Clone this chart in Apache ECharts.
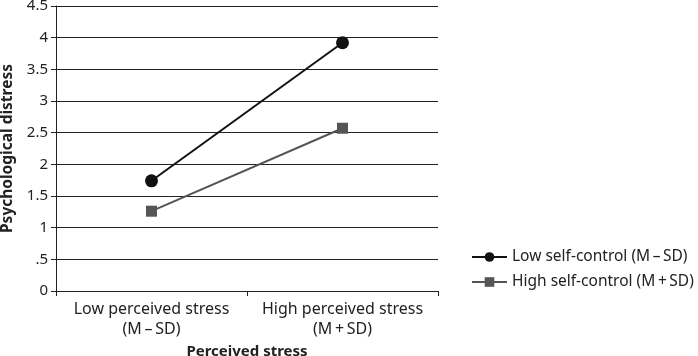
<!DOCTYPE html>
<html>
<head>
<meta charset="utf-8">
<script src="https://cdn.jsdelivr.net/npm/echarts@6/dist/echarts.min.js"></script>
<style>
  html, body { margin: 0; padding: 0; background: #fff; }
  #chart { width: 698px; height: 356px; }
</style>
</head>
<body>
<div id="chart"></div>
<script>
const categories = ['Low perceived stress\n(M\u2009\u2013\u2009SD)', 'High perceived stress\n(M\u2009+\u2009SD)']
const lowSelfControl = [1.74, 3.92]
const highSelfControl = [1.26, 2.57]
const seriesNames = ['Low self-control (M\u2009\u2013\u2009SD)', 'High self-control (M\u2009+\u2009SD)']

const font = 'Noto Sans'

const chart = echarts.init(document.getElementById('chart'))
chart.setOption({
  animation: false,
  textStyle: { fontFamily: font },
  grid: {
    left: 56,
    right: 260,
    top: 6,
    bottom: 65,
    containLabel: false,
    outerBoundsMode: 'none'
  },
  legend: {
    orient: 'vertical',
    left: 466,
    top: 244,
    itemWidth: 35,
    itemHeight: 12,
    itemGap: 9,
    textStyle: { fontFamily: font, fontSize: 15.5, color: '#222' },
    data: seriesNames
  },
  xAxis: {
    type: 'category',
    data: categories,
    name: 'Perceived stress',
    nameLocation: 'middle',
    nameGap: 48,
    nameTextStyle: { fontFamily: font, fontSize: 15, fontWeight: 'bold', color: '#222' },
    axisLine: { lineStyle: { color: '#222', width: 1 } },
    axisTick: { show: true, length: 5, lineStyle: { color: '#222' } },
    axisLabel: { interval: 0, fontFamily: font, fontSize: 16, color: '#222', margin: 8, lineHeight: 20 }
  },
  yAxis: {
    type: 'value',
    min: 0,
    max: 4.5,
    interval: 0.5,
    name: 'Psychological distress',
    nameLocation: 'middle',
    nameGap: 36,
    nameTextStyle: { fontFamily: font, fontSize: 15.5, fontWeight: 'bold', color: '#222' },
    axisLine: { show: true, lineStyle: { color: '#222', width: 1 } },
    axisTick: { show: true, length: 5, lineStyle: { color: '#222' } },
    axisLabel: {
      fontFamily: font, fontSize: 15, color: '#222', margin: 8,
      formatter: v => v === 0.5 ? '.5' : String(v)
    },
    splitLine: { lineStyle: { color: '#222', width: 1 } }
  },
  series: [{
    name: seriesNames[0],
    type: 'line',
    data: lowSelfControl,
    symbol: 'circle',
    symbolSize: 13,
    itemStyle: { color: '#111' },
    lineStyle: { color: '#111', width: 2 }
  }, {
    name: seriesNames[1],
    type: 'line',
    data: highSelfControl,
    symbol: 'rect',
    symbolSize: 11,
    itemStyle: { color: '#555' },
    lineStyle: { color: '#555', width: 2 }
  }]
})
</script>
</body>
</html>
